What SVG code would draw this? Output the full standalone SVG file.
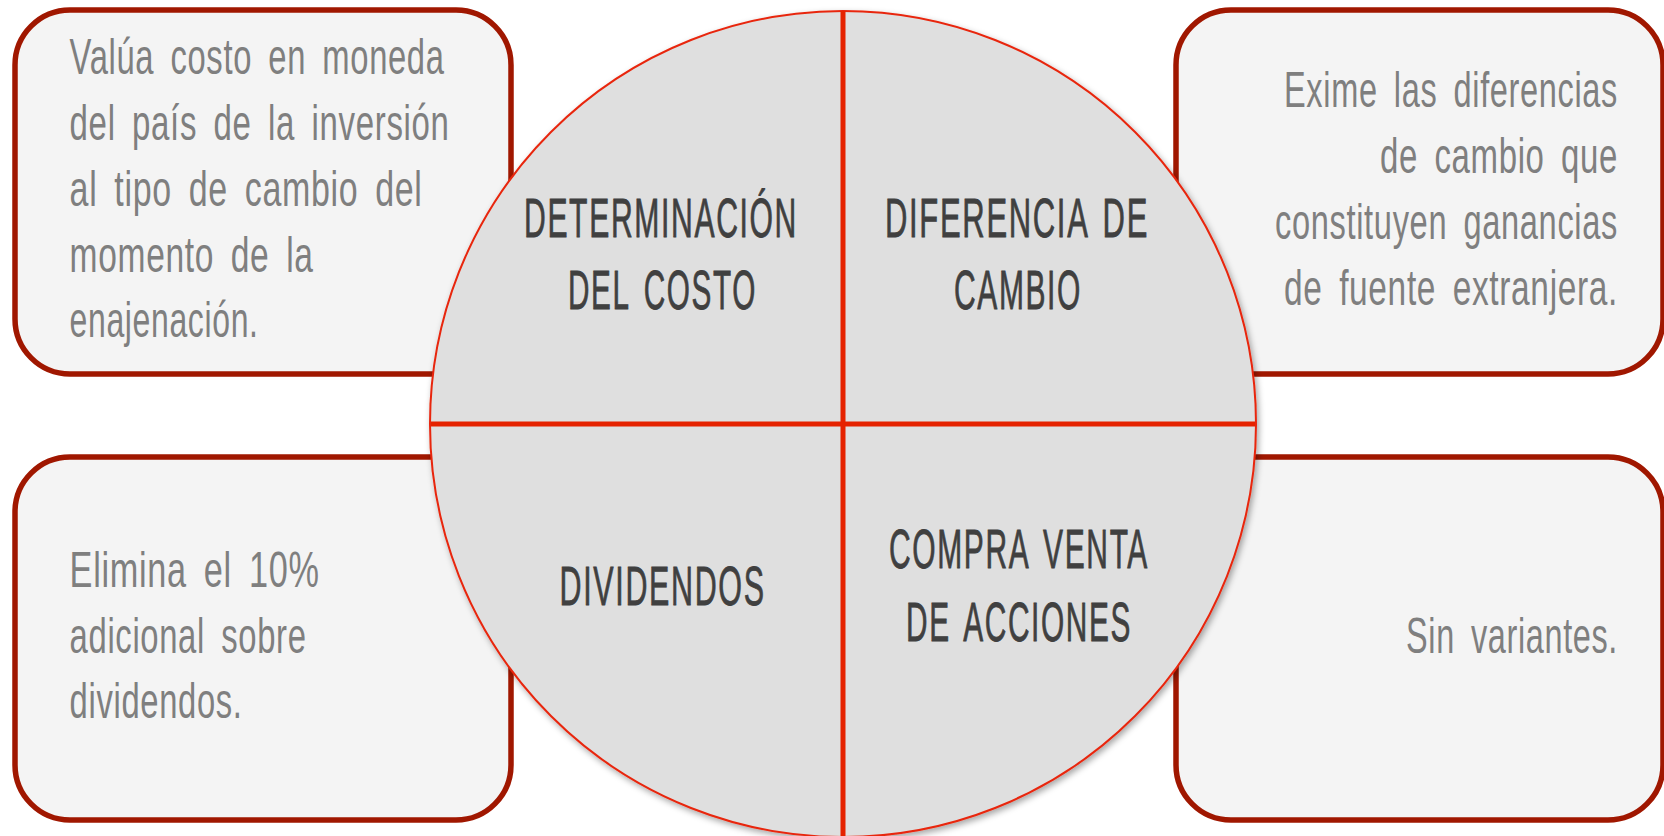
<svg xmlns="http://www.w3.org/2000/svg" width="1664" height="836" viewBox="0 0 1664 836">
  <defs>
    <filter id="shadow" x="-10%" y="-10%" width="120%" height="120%">
      <feDropShadow dx="2" dy="3" stdDeviation="3" flood-color="#000" flood-opacity="0.35"/>
    </filter>
    <style>
      .box { fill: #f4f4f4; stroke: #a01700; stroke-width: 5.5; }
      .circle { fill: #dfdfdf; stroke: #e8250c; stroke-width: 2; }
      .divider { stroke: #e52200; stroke-width: 5; fill: none; }
      .btxt { font-family: "Liberation Sans Narrow", "Liberation Sans", "DejaVu Sans Condensed", sans-serif; font-size: 50px; fill: #7f7f7f; letter-spacing: 1px; word-spacing: 10px; }
      .r { text-anchor: end; }
      .ctxt { font-family: "Liberation Sans Narrow", "Liberation Sans", "DejaVu Sans Condensed", sans-serif; font-size: 55px; fill: #404040; stroke: #404040; stroke-width: 0.8px; letter-spacing: 3px; word-spacing: 8px; text-anchor: middle; }
    </style>
  </defs>
  <rect width="1664" height="836" fill="#ffffff"/>

  <g id="box-top-left">
    <rect class="box" x="15" y="10" width="496" height="364" rx="55" ry="55"/>
    <text class="btxt" x="69.6" y="74" textLength="375" lengthAdjust="spacingAndGlyphs">Valúa costo en moneda</text>
    <text class="btxt" x="69.6" y="140" textLength="380" lengthAdjust="spacingAndGlyphs">del país de la inversión</text>
    <text class="btxt" x="69.6" y="206" textLength="353" lengthAdjust="spacingAndGlyphs">al tipo de cambio del</text>
    <text class="btxt" x="69.6" y="272" textLength="244" lengthAdjust="spacingAndGlyphs">momento de la</text>
    <text class="btxt" x="69.6" y="337" textLength="189" lengthAdjust="spacingAndGlyphs">enajenación.</text>
  </g>

  <g id="box-top-right">
    <rect class="box" x="1176" y="10" width="487" height="364" rx="55" ry="55"/>
    <text class="btxt r" x="1618" y="106.7" textLength="334" lengthAdjust="spacingAndGlyphs">Exime las diferencias</text>
    <text class="btxt r" x="1618" y="172.7" textLength="238" lengthAdjust="spacingAndGlyphs">de cambio que</text>
    <text class="btxt r" x="1618" y="239" textLength="343" lengthAdjust="spacingAndGlyphs">constituyen ganancias</text>
    <text class="btxt r" x="1618" y="305" textLength="334" lengthAdjust="spacingAndGlyphs">de fuente extranjera.</text>
  </g>

  <g id="box-bottom-left">
    <rect class="box" x="15" y="457" width="496" height="363" rx="55" ry="55"/>
    <text class="btxt" x="69.6" y="586.7" textLength="250" lengthAdjust="spacingAndGlyphs">Elimina el 10%</text>
    <text class="btxt" x="69.6" y="652.7" textLength="237" lengthAdjust="spacingAndGlyphs">adicional sobre</text>
    <text class="btxt" x="69.6" y="718.3" textLength="173" lengthAdjust="spacingAndGlyphs">dividendos.</text>
  </g>

  <g id="box-bottom-right">
    <rect class="box" x="1176" y="457" width="487" height="363" rx="55" ry="55"/>
    <text class="btxt r" x="1618" y="653" textLength="212" lengthAdjust="spacingAndGlyphs">Sin variantes.</text>
  </g>

  <g id="center-circle">
    <circle class="circle" cx="843" cy="424" r="413" filter="url(#shadow)"/>
  </g>

  <g id="connectors">
    <line class="divider" x1="843" y1="11" x2="843" y2="836"/>
    <line class="divider" x1="431" y1="424" x2="1255" y2="424"/>
  </g>

  <g id="quadrant-determinacion">
    <text class="ctxt" x="661" y="237.3" textLength="274" lengthAdjust="spacingAndGlyphs">DETERMINACIÓN</text>
    <text class="ctxt" x="662.5" y="309.3" textLength="189" lengthAdjust="spacingAndGlyphs">DEL COSTO</text>
  </g>
  <g id="quadrant-diferencia">
    <text class="ctxt" x="1017" y="237.3" textLength="264" lengthAdjust="spacingAndGlyphs">DIFERENCIA DE</text>
    <text class="ctxt" x="1018" y="309.3" textLength="128" lengthAdjust="spacingAndGlyphs">CAMBIO</text>
  </g>
  <g id="quadrant-dividendos">
    <text class="ctxt" x="662.6" y="605" textLength="206" lengthAdjust="spacingAndGlyphs">DIVIDENDOS</text>
  </g>
  <g id="quadrant-compraventa">
    <text class="ctxt" x="1019" y="568" textLength="260" lengthAdjust="spacingAndGlyphs">COMPRA VENTA</text>
    <text class="ctxt" x="1019" y="640.7" textLength="226" lengthAdjust="spacingAndGlyphs">DE ACCIONES</text>
  </g>
</svg>
